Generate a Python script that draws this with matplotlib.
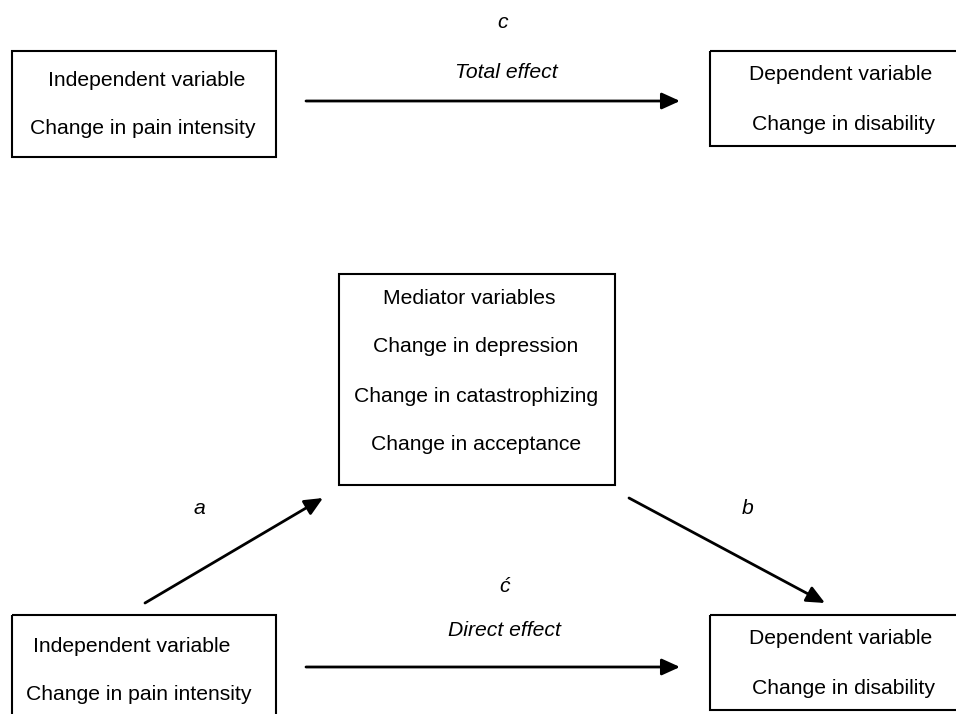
import matplotlib.pyplot as plt
from matplotlib.patches import Rectangle

plt.rcParams['font.family'] = ['Liberation Sans', 'DejaVu Sans']

# box texts
top_left_lines = ["Independent variable", "Change in pain intensity"]
top_right_lines = ["Dependent variable", "Change in disability"]
mediator_lines = ["Mediator variables", "Change in depression",
                  "Change in catastrophizing", "Change in acceptance"]
bottom_left_lines = ["Independent variable", "Change in pain intensity"]
bottom_right_lines = ["Dependent variable", "Change in disability"]

# path labels
path_letters = ["c", "a", "b", "\u0107"]
effect_labels = ["Total effect", "Direct effect"]

fig = plt.figure(figsize=(9.56, 7.14), dpi=100)
ax = fig.add_axes([0, 0, 1, 1])
ax.set_xlim(0, 956)
ax.set_ylim(714, 0)
ax.axis("off")

FS = 15.2


def box(x0, y0, x1, y1, lines, ys, xs):
    ax.add_patch(Rectangle((x0, y0), x1 - x0, y1 - y0, fill=False,
                           edgecolor="black", lw=1.5))
    for txt, y, x in zip(lines, ys, xs):
        ax.text(x, y + 2, txt, ha="center", va="center", fontsize=FS)


def arrow(start, end):
    ax.annotate("", xy=end, xytext=start,
                arrowprops=dict(arrowstyle="-|>,head_length=0.55,head_width=0.25",
                                mutation_scale=20, lw=2, color="black",
                                shrinkA=0, shrinkB=0))


def label(x, y, txt):
    ax.text(x, y + 2, txt, ha="center", va="center", fontsize=FS, style="italic")


# top: total effect
box(12, 51, 276, 157, top_left_lines, [79, 127], [147, 143])
box(710, 51, 962, 146, top_right_lines, [72, 122], [841, 844])
arrow((306, 101), (680, 101))
label(503, 20, path_letters[0])
label(506, 70, effect_labels[0])

# bottom: mediation model
box(339, 274, 615, 485, mediator_lines, [296, 345, 394, 443], [469, 476, 476, 476])
box(12, 615, 276, 740, bottom_left_lines, [644, 692], [132, 139])
box(710, 615, 962, 710, bottom_right_lines, [637, 687], [841, 844])

arrow((145, 603), (323, 498))
arrow((629, 498), (825, 603))
arrow((306, 667), (680, 667))

label(199, 507, path_letters[1])
label(748, 507, path_letters[2])
label(505, 585, path_letters[3])
label(504, 628, effect_labels[1])

fig.savefig("out.png", dpi=100, facecolor="white")
